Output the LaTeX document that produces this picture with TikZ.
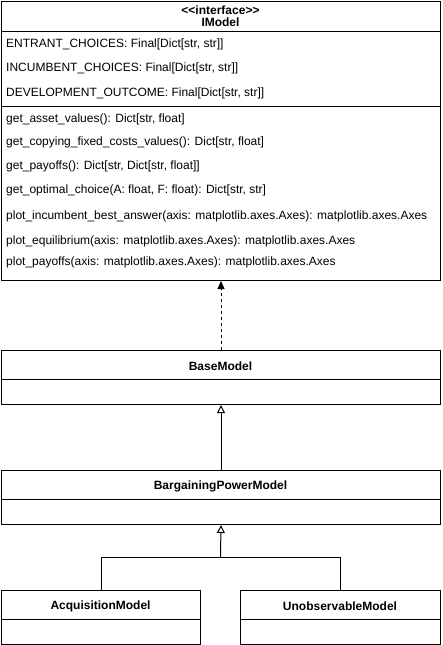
\documentclass[tikz,border=0pt]{standalone}
\usepackage{fontspec}
\setmainfont{Liberation Sans}
\usetikzlibrary{arrows.meta}
\begin{document}
\begin{tikzpicture}[x=1pt,y=-1pt,
  box/.style={draw,line width=1pt,rectangle,inner sep=0pt,anchor=north west},
  txt/.style={anchor=west,inner sep=0pt,font=\fontsize{12}{14}\selectfont},
  ttl/.style={inner sep=0pt,font=\fontsize{12}{14}\selectfont\bfseries},
  div/.style={line width=1pt},
  realize/.style={line width=1pt,dashed,dash pattern=on 3pt off 3pt,-{Triangle[length=8pt,width=7pt]}},
  inherit/.style={line width=1pt,-{Triangle[open,length=8pt,width=8pt]}}]
\useasboundingbox (0,0) rectangle (443,645);
% IModel
\node[box,minimum width=439pt,minimum height=279pt] (imodel) at (1,1) {};
\node[ttl] (st) at (220.5,10) {{<}{<}interface{>}{>}};
\node[ttl] (in) at (220.5,22) {IModel};
\draw[div] (1,31) -- (440,31);
\node[txt] (a1) at (6,44) {ENTRANT\_CHOICES: Final[Dict[str, str]]};
\node[txt] (a2) at (6,68) {INCUMBENT\_CHOICES: Final[Dict[str, str]]};
\node[txt] (a3) at (6,93) {DEVELOPMENT\_OUTCOME: Final[Dict[str, str]]};
\draw[div] (1,106) -- (440,106);
\node[txt] (m1) at (6,119) {get\_asset\_values(): Dict[str, float]};
\node[txt] (m2) at (6,142) {get\_copying\_fixed\_costs\_values(): Dict[str, float]};
\node[txt] (m3) at (6,166) {get\_payoffs(): Dict[str, Dict[str, float]]};
\node[txt] (m4) at (6,190) {get\_optimal\_choice(A: float, F: float): Dict[str, str]};
\node[txt] (m5) at (6,216) {plot\_incumbent\_best\_answer(axis: matplotlib.axes.Axes): matplotlib.axes.Axes};
\node[txt] (m6) at (6,241) {plot\_equilibrium(axis: matplotlib.axes.Axes): matplotlib.axes.Axes};
\node[txt] (m7) at (6,262) {plot\_payoffs(axis: matplotlib.axes.Axes): matplotlib.axes.Axes};
% BaseModel
\node[box,minimum width=439pt,minimum height=54pt] (base) at (1,350) {};
\node[ttl] (bt) at (220.5,366) {BaseModel};
\draw[div] (1,379) -- (440,379);
% BargainingPowerModel
\node[box,minimum width=439pt,minimum height=54pt] (bpm) at (1,470) {};
\node[ttl] (bpt) at (220.5,486) {BargainingPowerModel};
\draw[div] (1,499) -- (440,499);
% AcquisitionModel
\node[box,minimum width=199pt,minimum height=54pt] (acq) at (1,590) {};
\node[ttl] (act) at (100.5,606) {AcquisitionModel};
\draw[div] (1,619) -- (200,619);
% UnobservableModel
\node[box,minimum width=200pt,minimum height=54pt] (uno) at (240,590) {};
\node[ttl] (unt) at (340,606) {UnobservableModel};
\draw[div] (240,619) -- (440,619);
% connectors
\draw[realize] (base.north) -- (imodel.south);
\draw[inherit] (bpm.north) -- (base.south);
\coordinate (j) at (220.5,557);
\draw[line width=1pt] (acq.north) |- (j);
\draw[line width=1pt] (uno.north) |- (j);
\draw[inherit] (j) -- (bpm.south);
\end{tikzpicture}
\end{document}
